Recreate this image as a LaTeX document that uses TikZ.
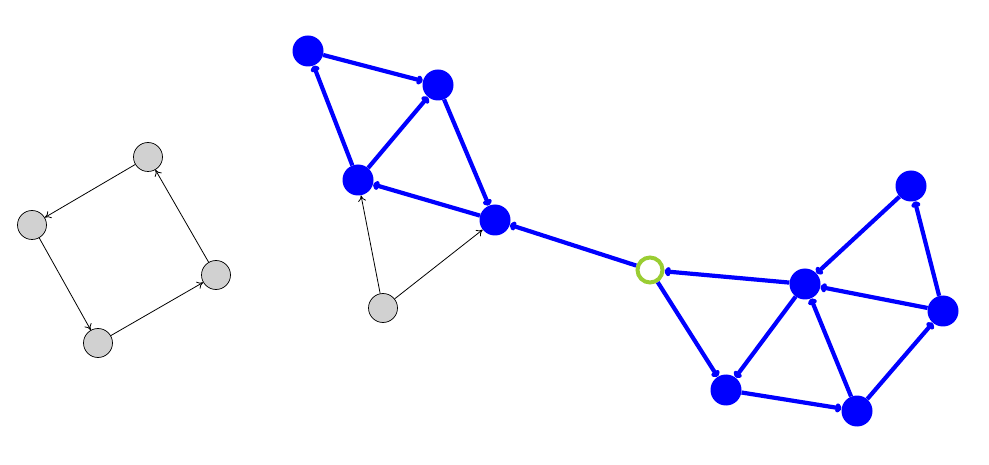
\documentclass[tikz,border=0pt]{standalone}
\usetikzlibrary{arrows.meta}
\definecolor{hubgreen}{RGB}{154,205,50}

\begin{document}
\begin{tikzpicture}[x=1pt,y=-1pt,
     plain/.style = {draw, circle, fill=black!18, minimum size=29pt, inner sep=0pt, line width=0.7pt},
     full/.style = {circle, fill=blue, minimum size=31pt, inner sep=0pt},
     hub/.style = {draw=hubgreen, circle, fill=white, minimum size=25pt, inner sep=0pt, line width=4pt},
     thin/.style = {draw, -{To[length=6pt,width=8pt]}, line width=0.8pt},
     thick/.style = {draw=blue, -{To[length=6pt,width=9pt]}, line width=4.2pt}
    ]
    \useasboundingbox (0,0) rectangle (989,465);
    % left cycle
    \node [plain] (p1) at (148,157) {};
    \node [plain] (p2) at (32,225) {};
    \node [plain] (p3) at (98,343) {};
    \node [plain] (p4) at (216,275) {};
    % middle group
    \node [full] (m1) at (308,51) {};
    \node [full] (m2) at (438,85) {};
    \node [full] (m3) at (358,180) {};
    \node [full] (m4) at (495,220) {};
    \node [plain] (m5) at (383,308) {};
    % bridge
    \node [hub] (h) at (650,270) {};
    % right group
    \node [full] (r1) at (911,186) {};
    \node [full] (r2) at (805,284) {};
    \node [full] (r3) at (943,311) {};
    \node [full] (r4) at (726,390) {};
    \node [full] (r5) at (857,411) {};

    \draw[thin] (p1) -- (p2);
    \draw[thin] (p2) -- (p3);
    \draw[thin] (p3) -- (p4);
    \draw[thin] (p4) -- (p1);

    \draw[thin] (m5) -- (m3);
    \draw[thin] (m5) -- (m4);
    \draw[thick] (m1) -- (m2);
    \draw[thick] (m3) -- (m1);
    \draw[thick] (m3) -- (m2);
    \draw[thick] (m2) -- (m4);
    \draw[thick] (m4) -- (m3);

    \draw[thick] (h) -- (m4);
    \draw[thick] (r2) -- (h);
    \draw[thick] (h) -- (r4);

    \draw[thick] (r1) -- (r2);
    \draw[thick] (r3) -- (r1);
    \draw[thick] (r3) -- (r2);
    \draw[thick] (r2) -- (r4);
    \draw[thick] (r4) -- (r5);
    \draw[thick] (r5) -- (r2);
    \draw[thick] (r5) -- (r3);
\end{tikzpicture}
\end{document}
